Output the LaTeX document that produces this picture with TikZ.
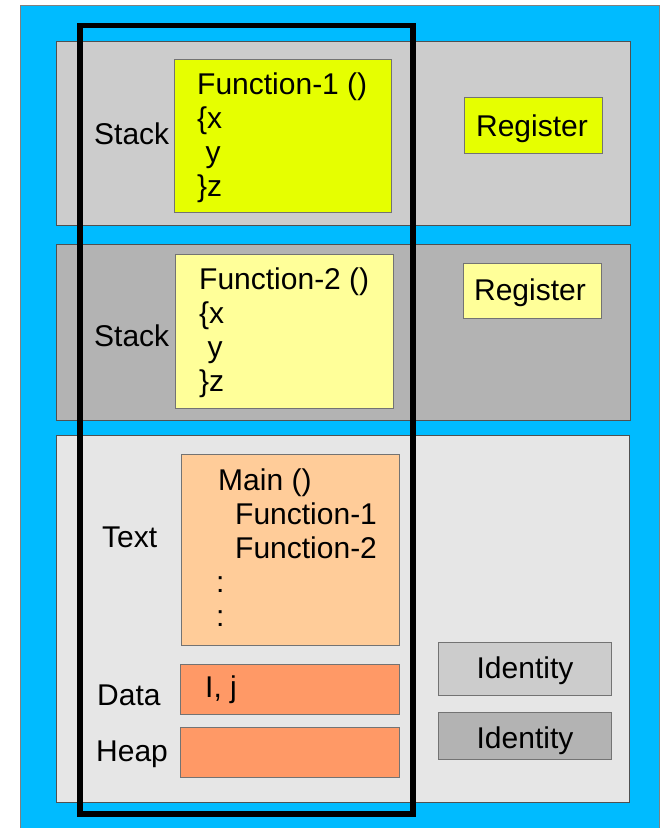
\documentclass[tikz,border=0pt]{standalone}
\usepackage{fontspec}
\setmainfont{Liberation Sans}
\definecolor{bgblue}{HTML}{00BBFF}
\definecolor{panelA}{HTML}{CCCCCC}
\definecolor{panelB}{HTML}{B3B3B3}
\definecolor{panelC}{HTML}{E6E6E6}
\definecolor{yelA}{HTML}{E6FF00}
\definecolor{yelB}{HTML}{FFFF99}
\definecolor{orA}{HTML}{FFCC99}
\definecolor{orB}{HTML}{FF9966}
\definecolor{edge}{HTML}{505050}
\begin{document}
\begin{tikzpicture}[x=1pt,y=-1pt,
  every node/.style={inner sep=0pt, font=\fontsize{30}{34}\selectfont},
  lbl/.style={anchor=base west},
  ctr/.style={anchor=base},
  panel/.style={draw=edge, line width=1pt},
  box/.style={draw=edge!80, line width=1pt},
  frame/.style={draw=black, line width=5.5pt}]
\useasboundingbox (0,0) rectangle (662,828);
% background
\filldraw[fill=bgblue, draw=gray, line width=0.8pt] (20,5) rectangle (659,830);
% panel 1
\filldraw[panel, fill=panelA] (56,41) rectangle (630,225);
\filldraw[box, fill=yelA] (174,59) rectangle (391,212);
\filldraw[box, fill=yelA] (464,97) rectangle (602,153);
\node[lbl] (stack1) at (94,144.5) {Stack};
\node[lbl] (f1a) at (197,94) {Function-1 ()};
\node[lbl] (f1b) at (197,128) {\{x};
\node[lbl] (f1c) at (197,162) {\ y};
\node[lbl] (f1d) at (197,196) {\}z};
\node[ctr] (reg1) at (532,136) {Register};
% panel 2
\filldraw[panel, fill=panelB] (56,244) rectangle (630,420);
\filldraw[box, fill=yelB] (175,254) rectangle (393,408);
\filldraw[box, fill=yelB] (463,263) rectangle (601,318);
\node[lbl] (stack2) at (94,346.5) {Stack};
\node[lbl] (f2a) at (199,289) {Function-2 ()};
\node[lbl] (f2b) at (199,323) {\{x};
\node[lbl] (f2c) at (199,357) {\ y};
\node[lbl] (f2d) at (199,391) {\}z};
\node[ctr] (reg2) at (530,300.5) {Register};
% panel 3
\filldraw[panel, fill=panelC] (56,435.5) rectangle (629,802.5);
\filldraw[box, fill=orA] (181,454) rectangle (399,645);
\filldraw[box, fill=orB] (180,664) rectangle (399,714);
\filldraw[box, fill=orB] (180,727) rectangle (399,777);
\filldraw[box, fill=panelA] (438,642) rectangle (611,695);
\filldraw[box, fill=panelB] (438,712) rectangle (611,759);
\node[lbl] (txt) at (102,547.5) {Text};
\node[lbl] (m1) at (218,490) {Main ()};
\node[lbl] (m2) at (235,524) {Function-1};
\node[lbl] (m3) at (235,558) {Function-2};
\node[lbl] (m4) at (216,592) {:};
\node[lbl] (m5) at (216,626) {:};
\node[lbl] (data) at (97,705) {Data};
\node[lbl] (ij) at (205,697) {I, j};
\node[lbl] (heap) at (96,761.5) {Heap};
\node[ctr] (id1) at (525,678.5) {Identity};
\node[ctr] (id2) at (525,748) {Identity};
% thick frame
\draw[frame] (80,25.5) rectangle (413,814);
\end{tikzpicture}
\end{document}
